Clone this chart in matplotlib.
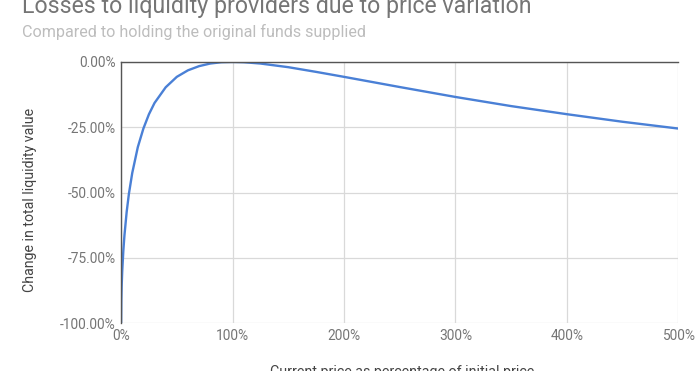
import matplotlib
matplotlib.use('Agg')
import matplotlib.pyplot as plt
from matplotlib.ticker import FuncFormatter

# Values: price ratio (%) vs change in liquidity value (%)
price_pct = [0, 0.2, 0.5, 1, 2, 3, 5, 7, 10, 15, 20, 25, 30, 40, 50, 60, 70, 80, 90,
             100, 110, 125, 150, 175, 200, 250, 300, 350, 400, 450, 500]
value_change = [-100.0, -91.1, -85.9, -80.2, -72.3, -66.4, -57.4, -50.5, -42.5, -32.6,
                -25.5, -20.0, -15.7, -9.7, -5.7, -3.2, -1.6, -0.6, -0.1,
                0.0, -0.1, -0.6, -2.0, -3.8, -5.7, -9.6, -13.4, -16.9, -20.0, -22.9, -25.5]

x_ticks = [0, 100, 200, 300, 400, 500]
y_ticks = [0, -25, -50, -75, -100]

title = 'Losses to liquidity providers due to price variation'
subtitle = 'Compared to holding the original funds supplied'
x_label = 'Current price as percentage of initial price'
y_label = 'Change in total liquidity value'

plt.rcParams['font.family'] = ['Roboto', 'DejaVu Sans']

fig = plt.figure(figsize=(7, 3.71), dpi=100)
ax = fig.add_axes([0.173, 0.129, 0.796, 0.704])

ax.plot(price_pct, value_change, color='#4a80d6', linewidth=1.7, solid_capstyle='round')

ax.set_xlim(0, 500)
ax.set_ylim(-100, 0)
ax.set_xticks(x_ticks)
ax.set_yticks(y_ticks)
ax.xaxis.set_major_formatter(FuncFormatter(lambda v, p: f'{v:.0f}%'))
ax.yaxis.set_major_formatter(FuncFormatter(lambda v, p: f'{v:.2f}%'))
ax.tick_params(length=0, labelsize=9.9, colors='#757575', pad=4)
ax.grid(True, color='#d9d9d9', linewidth=0.9)
ax.set_axisbelow(True)

for side in ['right', 'bottom']:
    ax.spines[side].set_visible(False)
ax.spines['left'].set_color('#555555')
ax.spines['top'].set_color('#555555')
ax.spines['left'].set_linewidth(1.0)
ax.spines['top'].set_linewidth(1.0)

fig.text(0.043, 0.461, y_label, fontsize=10.2, color='#444444', rotation=90,
         ha='center', va='center')
fig.text(0.031, 0.965, title, fontsize=16.7, color='#757575', va='baseline')
fig.text(0.031, 0.9, subtitle, fontsize=11.6, color='#bdbdbd', va='baseline')
fig.text(0.574, 0.017, x_label, fontsize=10.3, color='#444444', ha='center', va='top')

fig.savefig('out.png', dpi=100)
